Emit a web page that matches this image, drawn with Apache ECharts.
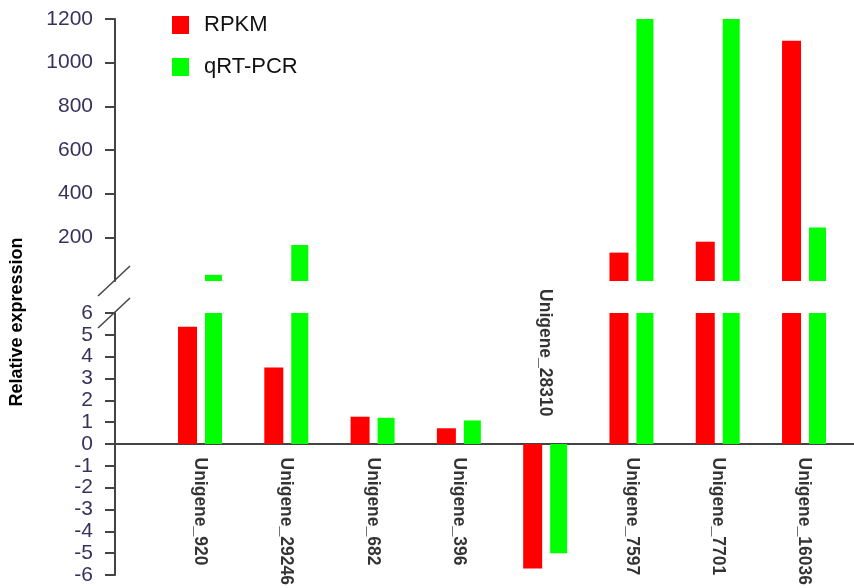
<!DOCTYPE html>
<html>
<head>
<meta charset="utf-8">
<script src="https://cdn.jsdelivr.net/npm/echarts@6/dist/echarts.min.js"></script>
<style>
  html, body { margin: 0; padding: 0; background: #ffffff; }
  #chart { width: 854px; height: 588px; }
</style>
</head>
<body>
<div id="chart"></div>
<script>
// Genes compared between RNA-seq (RPKM fold change) and qRT-PCR
const categories = ['Unigene_920', 'Unigene_29246', 'Unigene_682', 'Unigene_396',
                    'Unigene_28310', 'Unigene_7597', 'Unigene_7701', 'Unigene_16036'];
const rpkm   = [5.37, 3.5, 1.25, 0.72, -5.7, 130, 180, 1100];
const qrtpcr = [28, 165, 1.2, 1.08, -5.0, 1200, 1200, 245];

// Broken y axis: a linear lower segment and a compressed upper segment
const lowerTicks = [-6, -5, -4, -3, -2, -1, 0, 1, 2, 3, 4, 5, 6];
const upperTicks = [200, 400, 600, 800, 1000, 1200];
const lowerMin = -6, lowerMax = 6;
const upperMin = 0, upperMax = 1200;

// Horizontal extent of the shared value-based category axis
const xMin = -0.985, xMax = 7.579;

const RED = '#ff0000', GREEN = '#00ff00';
const AXIS_COLOR = '#444444';
const TICK_LABEL_COLOR = '#37325c';
const FONT = 'Arial, "Liberation Sans", sans-serif';

const chart = echarts.init(document.getElementById('chart'), null, { renderer: 'canvas' });

const toPairs = arr => arr.map((v, i) => [i, v]);
// Only values that overflow the lower segment show up in the upper one
const upperPairs = arr => arr.map((v, i) => [i, v > lowerMax ? v : '-']);

const barCommon = { type: 'bar', clip: true, barGap: '42%', animation: false };

const yAxisCommon = {
  type: 'value',
  splitLine: { show: false },
  axisLine: { show: true, onZero: false, lineStyle: { color: AXIS_COLOR, width: 2 } },
  axisTick: { show: true, length: 10, lineStyle: { color: AXIS_COLOR, width: 2 } },
  axisLabel: {
    fontFamily: FONT, fontSize: 21, color: TICK_LABEL_COLOR, margin: 22,
    formatter: v => String(v)
  }
};

const option = {
  animation: false,
  backgroundColor: '#ffffff',
  legend: {
    data: ['RPKM', 'qRT-PCR'],
    orient: 'vertical',
    left: 167,
    top: 9,
    icon: 'rect',
    itemWidth: 17,
    itemHeight: 18,
    itemGap: 20,
    textStyle: { fontFamily: FONT, fontSize: 22, color: '#111111', padding: [0, 0, 0, 10] }
  },
  grid: [
    { left: 115, right: 0, top: 19, height: 262 },
    { left: 115, right: 0, top: 313, height: 262 }
  ],
  xAxis: [
    { gridIndex: 0, type: 'value', min: xMin, max: xMax, show: false },
    {
      gridIndex: 1, type: 'value', min: xMin, max: xMax,
      axisLine: { show: true, onZero: true, lineStyle: { color: AXIS_COLOR, width: 2 } },
      axisTick: { show: false },
      axisLabel: { show: false },
      splitLine: { show: false }
    }
  ],
  yAxis: [
    Object.assign({}, yAxisCommon, {
      gridIndex: 0, min: upperMin, max: upperMax, interval: 200,
      axisTick: Object.assign({}, yAxisCommon.axisTick, { customValues: upperTicks }),
      axisLabel: Object.assign({}, yAxisCommon.axisLabel, { customValues: upperTicks })
    }),
    Object.assign({}, yAxisCommon, {
      gridIndex: 1, min: lowerMin, max: lowerMax, interval: 1,
      axisTick: Object.assign({}, yAxisCommon.axisTick, { customValues: lowerTicks }),
      axisLabel: Object.assign({}, yAxisCommon.axisLabel, { customValues: lowerTicks })
    })
  ],
  series: [
    Object.assign({}, barCommon, {
      name: 'RPKM', xAxisIndex: 0, yAxisIndex: 0, barWidth: 19,
      itemStyle: { color: RED }, data: upperPairs(rpkm)
    }),
    Object.assign({}, barCommon, {
      name: 'qRT-PCR', xAxisIndex: 0, yAxisIndex: 0, barWidth: 17,
      itemStyle: { color: GREEN }, data: upperPairs(qrtpcr)
    }),
    Object.assign({}, barCommon, {
      name: 'RPKM', xAxisIndex: 1, yAxisIndex: 1, barWidth: 19,
      itemStyle: { color: RED }, data: toPairs(rpkm)
    }),
    Object.assign({}, barCommon, {
      name: 'qRT-PCR', xAxisIndex: 1, yAxisIndex: 1, barWidth: 17,
      itemStyle: { color: GREEN }, data: toPairs(qrtpcr)
    }),
    {
      // Gene names, written on the side of the zero line opposite the bars
      name: 'genes',
      type: 'scatter',
      xAxisIndex: 1, yAxisIndex: 1,
      symbolSize: 1,
      itemStyle: { color: 'rgba(0,0,0,0)' },
      silent: true,
      data: categories.map((name, i) => {
        const below = rpkm[i] >= 0;
        return {
          value: [i, 0],
          name: name,
          label: {
            position: below ? 'bottom' : 'top',
            distance: below ? 13 : 27,
            align: below ? 'left' : 'right'
          }
        };
      }),
      label: {
        show: true,
        formatter: p => p.name,
        rotate: -90,
        verticalAlign: 'middle',
        fontFamily: FONT,
        fontSize: 17.5,
        fontWeight: 'bold',
        color: '#000000'
      }
    }
  ]
};

chart.setOption(option);

// Axis title and the double-slash marks where the y axis is broken
const breakTop = chart.convertToPixel({ xAxisIndex: 0, yAxisIndex: 0 }, [xMin, upperMin]);
const breakBottom = chart.convertToPixel({ xAxisIndex: 1, yAxisIndex: 1 }, [xMin, lowerMax]);
const slash = (p) => ({
  type: 'line',
  shape: { x1: p[0] - 17, y1: p[1] + 15, x2: p[0] + 15, y2: p[1] - 15 },
  style: { stroke: AXIS_COLOR, lineWidth: 1.5 },
  z: 10
});

chart.setOption({
  graphic: [
    slash(breakTop),
    slash(breakBottom),
    {
      type: 'text',
      x: 17,
      y: 322,
      rotation: Math.PI / 2,
      style: {
        text: 'Relative expression',
        font: 'bold 18px ' + FONT,
        fill: '#000000',
        textAlign: 'center',
        textVerticalAlign: 'middle'
      }
    }
  ]
});
</script>
</body>
</html>
